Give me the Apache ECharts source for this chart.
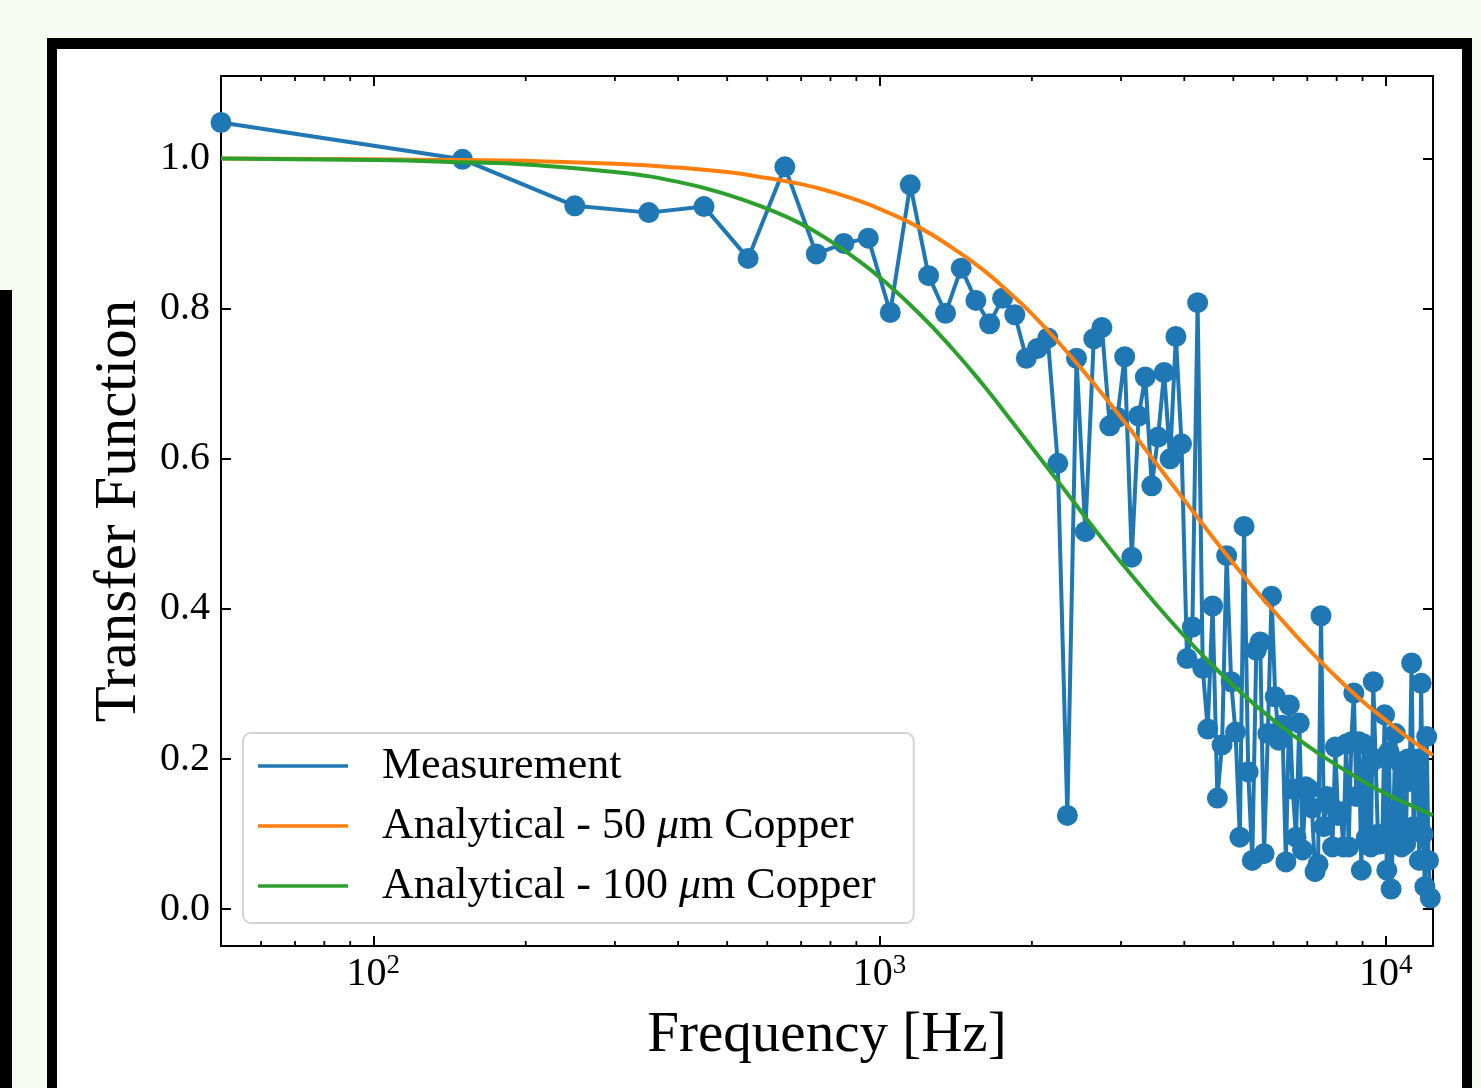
<!DOCTYPE html>
<html>
<head>
<meta charset="utf-8">
<script src="https://cdn.jsdelivr.net/npm/echarts@6/dist/echarts.min.js"></script>
<style>
  html, body { margin: 0; padding: 0; background: #f5faf3; overflow: hidden; }
  #frame { position: absolute; left: 47px; top: 38px; width: 1425px; height: 1100px; background: #000; }
  #inner { position: absolute; left: 57px; top: 49px; width: 1405px; height: 1100px; background: #fff; }
  #strip { position: absolute; left: 0px; top: 290px; width: 12px; height: 800px; background: #000; }
  #chart { position: absolute; left: 0; top: 0; width: 1481px; height: 1088px; }
</style>
</head>
<body>
<div id="frame"></div>
<div id="inner"></div>
<div id="strip"></div>
<div id="chart"></div>
<script>
// ---------- data ----------
const measFreq = [
  50, 150, 250, 350, 450, 550, 650, 750, 850, 950,
  1050, 1150, 1250, 1350, 1450, 1550, 1650, 1750, 1850, 1950,
  2050, 2150, 2250, 2350, 2450, 2550, 2650, 2750, 2850, 2950,
  3050, 3150, 3250, 3350, 3450, 3550, 3650, 3750, 3850, 3950,
  4050, 4150, 4250, 4350, 4450, 4550, 4650, 4750, 4850, 4950,
  5050, 5150, 5250, 5350, 5450, 5550, 5650, 5750, 5850, 5950,
  6050, 6150, 6250, 6350, 6450, 6550, 6650, 6750, 6850, 6950,
  7050, 7150, 7250, 7350, 7450, 7550, 7650, 7750, 7850, 7950,
  8050, 8150, 8250, 8350, 8450, 8550, 8650, 8750, 8850, 8950,
  9050, 9150, 9250, 9350, 9450, 9550, 9650, 9750, 9850, 9950,
  10050, 10150, 10250, 10350, 10450, 10550, 10650, 10750, 10850, 10950,
  11050, 11150, 11250, 11350, 11450, 11550, 11650, 11750, 11850, 11950,
  12050, 12150, 12250
];
const measValue = [
  1.048, 0.999, 0.937, 0.928, 0.936, 0.867, 0.989, 0.873, 0.887, 0.894,
  0.795, 0.965, 0.844, 0.794, 0.854, 0.811, 0.780, 0.814, 0.792, 0.734,
  0.747, 0.761, 0.594, 0.125, 0.734, 0.503, 0.760, 0.775, 0.644, 0.655,
  0.736, 0.469, 0.657, 0.709, 0.564, 0.629, 0.715, 0.600, 0.763, 0.620,
  0.334, 0.376, 0.808, 0.321, 0.240, 0.404, 0.148, 0.219, 0.471, 0.303,
  0.236, 0.096, 0.510, 0.183, 0.065, 0.345, 0.356, 0.074, 0.234, 0.417,
  0.283, 0.225, 0.245, 0.063, 0.272, 0.160, 0.096, 0.248, 0.079, 0.163,
  0.160, 0.135, 0.050, 0.060, 0.391, 0.110, 0.150, 0.140, 0.083, 0.216,
  0.125, 0.130, 0.083, 0.220, 0.083, 0.223, 0.288, 0.150, 0.223, 0.052,
  0.220, 0.095, 0.190, 0.083, 0.303, 0.200, 0.100, 0.087, 0.092, 0.259,
  0.052, 0.210, 0.027, 0.110, 0.234, 0.100, 0.196, 0.083, 0.180, 0.087,
  0.200, 0.170, 0.328, 0.110, 0.180, 0.200, 0.065, 0.301, 0.100, 0.030,
  0.230, 0.065, 0.015
];
const modelFreq = [
  50, 100, 150, 200, 300, 400, 500, 600, 700, 800, 900, 1000,
  1200, 1400, 1600, 1800, 2000, 2300, 2600, 3000, 3500, 4000,
  4500, 5000, 5500, 6000, 7000, 8000, 9000, 10000, 11000, 12400
];
const copper50 = [
  1.000, 0.999, 0.998, 0.997, 0.993, 0.988, 0.982, 0.974, 0.966, 0.956, 0.945, 0.933,
  0.908, 0.880, 0.852, 0.822, 0.793, 0.749, 0.707, 0.655, 0.596, 0.545,
  0.500, 0.461, 0.427, 0.398, 0.348, 0.309, 0.277, 0.252, 0.230, 0.205
];
const copper100 = [
  1.000, 0.998, 0.995, 0.992, 0.982, 0.969, 0.952, 0.933, 0.913, 0.890, 0.866, 0.842,
  0.793, 0.745, 0.699, 0.655, 0.615, 0.562, 0.515, 0.462, 0.408, 0.364,
  0.328, 0.298, 0.273, 0.252, 0.218, 0.192, 0.171, 0.154, 0.141, 0.125
];
const minorTicks = [60, 70, 80, 90, 200, 300, 400, 500, 600, 700, 800, 900,
  2000, 3000, 4000, 5000, 6000, 7000, 8000, 9000];
const seriesNames = ['Measurement', 'Analytical - 50 \u03bcm Copper', 'Analytical - 100 \u03bcm Copper'];
const colors = ['#1f77b4', '#ff7f0e', '#2ca02c'];
const xMin = 50, xMax = 12400, yMin = -0.049, yMax = 1.11;

// ---------- chart ----------
const FONT = 'Liberation Serif';
const chart = echarts.init(document.getElementById('chart'), null, { renderer: 'canvas' });

const zip = (a, b) => a.map((v, i) => [v, b[i]]);

const axisLineStyle = { color: '#000', width: 2 };
const tickStyle = { color: '#000', width: 2 };

const logLabelFormatter = v => {
  const e = Math.round(Math.log10(v));
  return '{b|10}{s|' + e + '}';
};

const option = {
  animation: false,
  backgroundColor: 'transparent',
  grid: { left: 221, top: 76, width: 1212, height: 870, containLabel: false },
  legend: {
    data: seriesNames,
    orient: 'vertical',
    left: 243,
    top: 733,
    icon: 'rect',
    itemWidth: 90,
    itemHeight: 3.5,
    itemGap: 10,
    padding: [8, 38, 12, 15],
    backgroundColor: 'rgba(255,255,255,0.8)',
    borderColor: '#d4d4d4',
    borderWidth: 2,
    borderRadius: 8,
    selectedMode: false,
    formatter: name => '{sp| }' + name.replace('\u03bc', '{it|\u03bc}'),
    textStyle: {
      fontFamily: FONT, fontSize: 44, color: '#000', lineHeight: 50,
      rich: {
        sp: { width: 29, fontFamily: FONT, fontSize: 44, lineHeight: 50 },
        it: { fontStyle: 'italic', fontFamily: FONT, fontSize: 44, color: '#000', lineHeight: 50 }
      }
    }
  },
  xAxis: [
    {
      type: 'log', logBase: 10, min: xMin, max: xMax, position: 'bottom',
      name: 'Frequency [Hz]', nameLocation: 'middle', nameGap: 62,
      nameTextStyle: { fontFamily: FONT, fontSize: 57, color: '#000' },
      axisLine: { show: true, onZero: false, lineStyle: axisLineStyle },
      axisTick: { show: true, inside: true, length: 10, lineStyle: tickStyle },
      minorTick: { show: false },
      splitLine: { show: false },
      axisLabel: {
        show: true, margin: 6, showMinLabel: false, showMaxLabel: false,
        formatter: logLabelFormatter,
        rich: {
          b: { fontFamily: FONT, fontSize: 40, color: '#000', lineHeight: 44 },
          s: { fontFamily: FONT, fontSize: 27, color: '#000', lineHeight: 21, verticalAlign: 'top' }
        }
      }
    },
    {
      type: 'log', logBase: 10, min: xMin, max: xMax, position: 'top',
      axisLine: { show: true, onZero: false, lineStyle: axisLineStyle },
      axisTick: { show: true, inside: true, length: 10, lineStyle: tickStyle },
      splitLine: { show: false },
      axisLabel: { show: false }
    }
  ],
  yAxis: [
    {
      type: 'value', min: yMin, max: yMax, splitNumber: 6, position: 'left',
      name: 'Transfer Function', nameLocation: 'middle', nameGap: 72,
      nameTextStyle: { fontFamily: FONT, fontSize: 59, color: '#000' },
      axisLine: { show: true, onZero: false, lineStyle: axisLineStyle },
      axisTick: { show: true, inside: true, length: 10, lineStyle: tickStyle },
      splitLine: { show: false },
      axisLabel: {
        show: true, margin: 11, showMinLabel: false, showMaxLabel: false,
        fontFamily: FONT, fontSize: 40, color: '#000',
        formatter: v => v.toFixed(1)
      }
    },
    {
      type: 'value', min: yMin, max: yMax, splitNumber: 6, position: 'right',
      axisLine: { show: true, onZero: false, lineStyle: axisLineStyle },
      axisTick: { show: true, inside: true, length: 10, lineStyle: tickStyle },
      splitLine: { show: false },
      axisLabel: { show: false }
    }
  ],
  series: [
    {
      name: seriesNames[0], type: 'line', xAxisIndex: 0, yAxisIndex: 0,
      data: zip(measFreq, measValue),
      color: colors[0],
      lineStyle: { width: 4, color: colors[0] },
      symbol: 'circle', symbolSize: 21, showSymbol: true, showAllSymbol: true,
      itemStyle: { color: colors[0] },
      clip: true, z: 2
    },
    {
      name: seriesNames[1], type: 'line', xAxisIndex: 0, yAxisIndex: 0,
      data: zip(modelFreq, copper50),
      color: colors[1], smooth: true,
      lineStyle: { width: 4, color: colors[1] },
      showSymbol: false, symbol: 'none', clip: true, z: 3
    },
    {
      name: seriesNames[2], type: 'line', xAxisIndex: 0, yAxisIndex: 0,
      data: zip(modelFreq, copper100),
      color: colors[2], smooth: true,
      lineStyle: { width: 4, color: colors[2] },
      showSymbol: false, symbol: 'none', clip: true, z: 4
    },
    {
      name: 'minor ticks', type: 'custom', xAxisIndex: 0, yAxisIndex: 0,
      silent: true, z: 5, clip: false,
      data: minorTicks.map(v => [v, 0]),
      renderItem: (params, api) => {
        const cs = params.coordSys;
        const x = api.coord([api.value(0), 0])[0];
        const yb = cs.y + cs.height, yt = cs.y;
        return {
          type: 'group',
          children: [
            { type: 'line', shape: { x1: x, y1: yb, x2: x, y2: yb - 5 }, style: { stroke: '#000', lineWidth: 1.8 } },
            { type: 'line', shape: { x1: x, y1: yt, x2: x, y2: yt + 5 }, style: { stroke: '#000', lineWidth: 1.8 } }
          ]
        };
      }
    }
  ]
};
chart.setOption(option);
</script>
</body>
</html>
